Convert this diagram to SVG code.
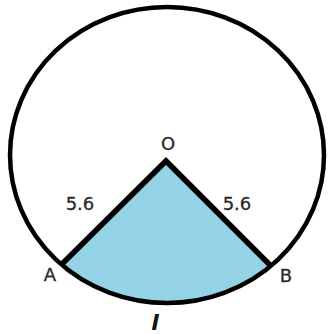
<svg xmlns="http://www.w3.org/2000/svg" width="329" height="334" viewBox="0 0 329 334">
<style>
.lbl{font-family:"DejaVu Sans",Verdana,sans-serif;font-size:18px;fill:#2a2a2a;text-anchor:middle;stroke:#2a2a2a;stroke-width:0.3}
</style>
<rect width="329" height="334" fill="#fff"/>
<g id="sector">
<path d="M166 161 L62 264 A157 148 0 0 0 270 265 Z" fill="#94d3e6" stroke="none"/>
</g>
<g id="circle">
<ellipse cx="167" cy="155" rx="157" ry="148" fill="none" stroke="#000" stroke-width="4.5"/>
</g>
<g id="connectors">
<polyline points="62,264 166,161 270,265" fill="none" stroke="#000" stroke-width="5.5" stroke-linejoin="miter"/>
</g>
<g id="labels">
<text class="lbl" x="168" y="150">O</text>
<text class="lbl" x="50" y="281">A</text>
<text class="lbl" x="286" y="282">B</text>
<text class="lbl" x="80" y="210">5.6</text>
<text class="lbl" x="237" y="210">5.6</text>
<text class="lbl" x="155" y="330" style="font-style:italic;font-weight:bold;font-size:22px;fill:#111;stroke:none">l</text>
</g>
</svg>
